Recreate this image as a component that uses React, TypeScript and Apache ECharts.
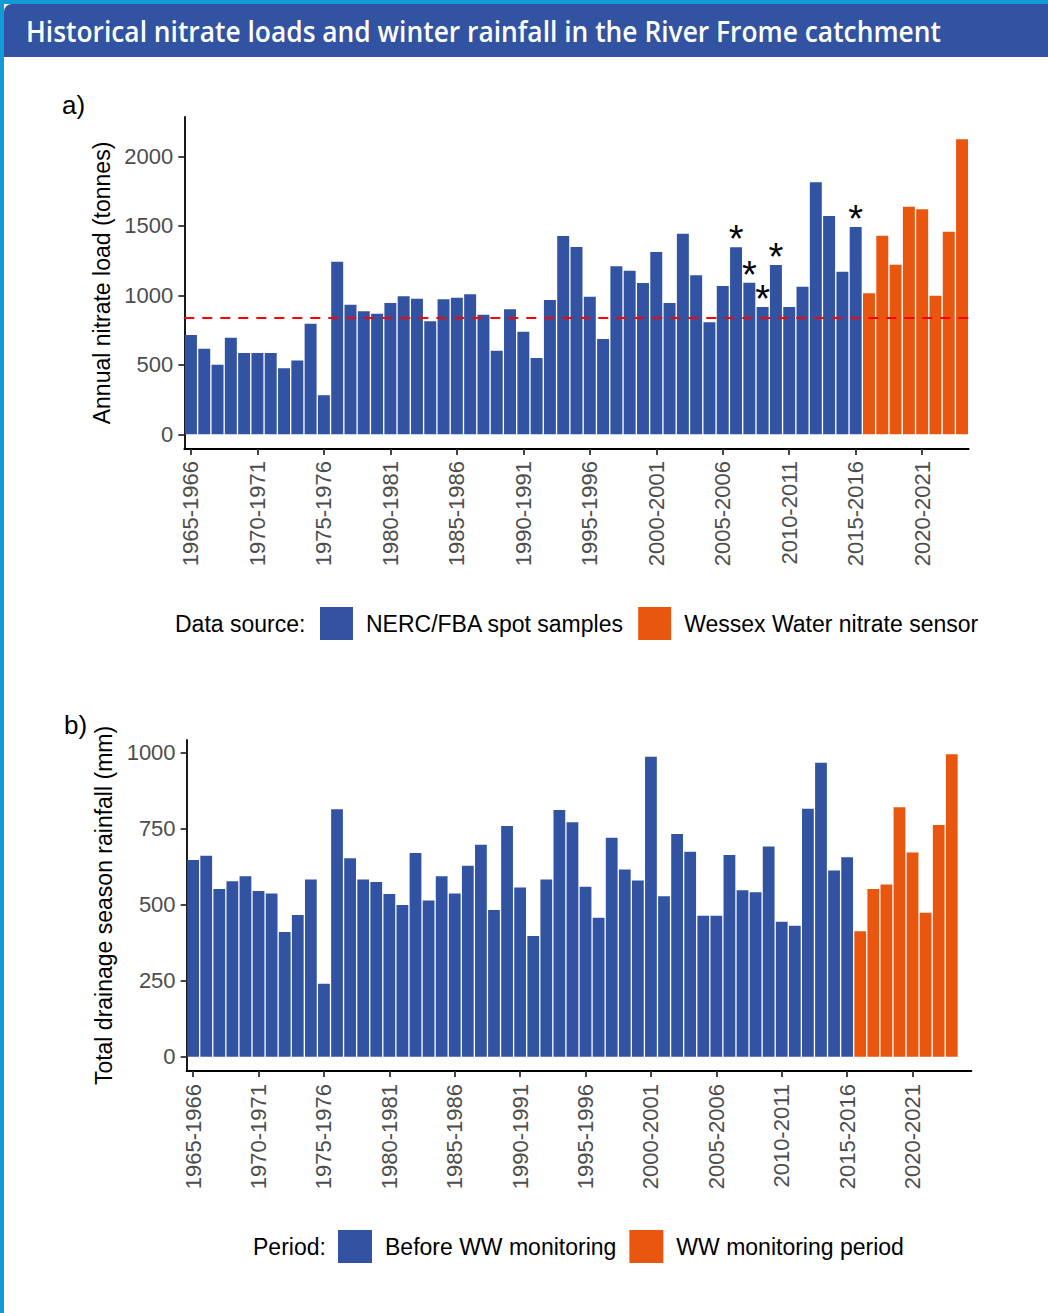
import React, { useEffect, useRef } from "react";
import * as echarts from "echarts";

// ---------- DATA ----------
const years = [
  "1965-1966", "1966-1967", "1967-1968", "1968-1969", "1969-1970",
  "1970-1971", "1971-1972", "1972-1973", "1973-1974", "1974-1975",
  "1975-1976", "1976-1977", "1977-1978", "1978-1979", "1979-1980",
  "1980-1981", "1981-1982", "1982-1983", "1983-1984", "1984-1985",
  "1985-1986", "1986-1987", "1987-1988", "1988-1989", "1989-1990",
  "1990-1991", "1991-1992", "1992-1993", "1993-1994", "1994-1995",
  "1995-1996", "1996-1997", "1997-1998", "1998-1999", "1999-2000",
  "2000-2001", "2001-2002", "2002-2003", "2003-2004", "2004-2005",
  "2005-2006", "2006-2007", "2007-2008", "2008-2009", "2009-2010",
  "2010-2011", "2011-2012", "2012-2013", "2013-2014", "2014-2015",
  "2015-2016", "2016-2017", "2017-2018", "2018-2019", "2019-2020",
  "2020-2021", "2021-2022", "2022-2023", "2023-2024",
];
// panel b has one extra (empty) slot at the end of its axis
const yearsB = [...years, "2024-2025"];

// Panel a: annual nitrate load (tonnes)
const nitrateSpot = [
  715, 615, 500, 695, 585, 585, 585, 475, 530, 796,
  281, 1242, 932, 885, 868, 945, 993, 976, 813, 971,
  983, 1007, 860, 601, 899, 738, 549, 966, 1427, 1348,
  990, 686, 1209, 1177, 1088, 1311, 945, 1443, 1144, 806,
  1067, 1345, 1091, 916, 1218, 916, 1062, 1813, 1570, 1170,
  1491,
];
const nitrateSensor = [1014, 1429, 1220, 1637, 1619, 997, 1458, 2122];
const starredYears = ["2006-2007", "2007-2008", "2008-2009", "2009-2010", "2015-2016"];
const nitrateReference = 835;
const nitrateTicks = [0, 500, 1000, 1500, 2000];

// Panel b: total drainage season rainfall (mm)
const rainBefore = [
  647, 661, 552, 577, 594, 545, 537, 410, 466, 583,
  240, 814, 653, 583, 575, 535, 499, 670, 514, 594,
  537, 628, 697, 483, 759, 557, 397, 583, 812, 771,
  559, 457, 720, 616, 580, 987, 528, 733, 674, 464,
  464, 664, 548, 541, 692, 444, 431, 816, 967, 613,
  656,
];
const rainWW = [413, 552, 567, 821, 672, 474, 762, 995];
const rainTicks = [0, 250, 500, 750, 1000];

const seriesNames = {
  spot: "NERC/FBA spot samples",
  sensor: "Wessex Water nitrate sensor",
  before: "Before WW monitoring",
  ww: "WW monitoring period",
};

const TITLE = "Historical nitrate loads and winter rainfall in the River Frome catchment";

// ---------- STYLE ----------
const BLUE = "#3153a2";
const ORANGE = "#e9560f";
const CYAN = "#129bd6";
const FONT = "'Liberation Sans', Arial, sans-serif";
const TICK_GREY = "#4d4d4d";

function measure(text: string, font: string) {
  const c = document.createElement("canvas").getContext("2d");
  if (!c) return 0;
  c.font = font;
  return c.measureText(text).width;
}

export default function App() {
  const ref = useRef<HTMLDivElement>(null);

  useEffect(() => {
    document.body.style.margin = "0";
    if (!ref.current) return;
    const chart = echarts.init(ref.current, undefined, { renderer: "svg" });

    const titleFont = "600 28px 'Open Sans'";
    const tw = measure(TITLE, titleFont);
    const titleScale = tw > 0 ? 915 / tw : 1;

    const nB = nitrateSpot.length;
    const spotData = years.map((y, i) => {
      if (i >= nB) return null;
      const v = nitrateSpot[i];
      if (starredYears.includes(y)) {
        return {
          value: v,
          label: {
            show: true,
            formatter: "*",
            position: "top",
            distance: 8,
            fontSize: 38,
            fontFamily: FONT,
            color: "#000",
            verticalAlign: "middle",
          },
        };
      }
      return v;
    });
    const sensorData = years.map((_, i) => (i >= nB ? nitrateSensor[i - nB] : null));

    const rB = rainBefore.length;
    const beforeData = yearsB.map((_, i) => (i < rB ? rainBefore[i] : null));
    const wwData = yearsB.map((_, i) =>
      i >= rB && i - rB < rainWW.length ? rainWW[i - rB] : null
    );

    const xAxisCommon = (data: string[], margin: number) => ({
      type: "category",
      data,
      boundaryGap: true,
      axisLine: { show: true, onZero: false, lineStyle: { color: "#000", width: 1.8 } },
      axisTick: {
        show: true,
        alignWithLabel: true,
        interval: 4,
        length: 6,
        lineStyle: { color: "#333", width: 1.8 },
      },
      axisLabel: {
        interval: 4,
        rotate: 90,
        margin,
        fontSize: 22,
        fontFamily: FONT,
        color: TICK_GREY,
      },
      splitLine: { show: false },
    });

    const yAxisCommon = (
      min: number,
      max: number,
      ticks: number[],
      name: string,
      nameGap: number
    ) => ({
      type: "value",
      min,
      max,
      name,
      nameLocation: "middle",
      nameGap,
      nameTextStyle: { fontSize: 23, fontFamily: FONT, color: "#000" },
      axisLine: { show: true, lineStyle: { color: "#000", width: 1.8 } },
      axisTick: {
        show: true,
        length: 6,
        customValues: ticks,
        lineStyle: { color: "#333", width: 1.8 },
      },
      axisLabel: {
        customValues: ticks,
        formatter: (v: number) => String(v),
        margin: 11,
        fontSize: 22,
        fontFamily: FONT,
        color: TICK_GREY,
      },
      splitLine: { show: false },
    });

    const option: any = {
      animation: false,
      backgroundColor: "#fff",
      textStyle: { fontFamily: FONT },
      grid: [
        { left: 184.3, top: 117, width: 784.4, height: 332, containLabel: false },
        { left: 186.6, top: 740, width: 784.8, height: 331, containLabel: false },
      ],
      xAxis: [
        { ...xAxisCommon(years, 12), gridIndex: 0 },
        { ...xAxisCommon(yearsB, 13), gridIndex: 1 },
      ],
      yAxis: [
        {
          ...yAxisCommon(-106, 2283, nitrateTicks, "Annual nitrate load (tonnes)", 57),
          gridIndex: 0,
        },
        {
          ...yAxisCommon(-47, 1042, rainTicks, "Total drainage season rainfall (mm)", 58),
          gridIndex: 1,
        },
      ],
      legend: [
        {
          data: [seriesNames.spot, seriesNames.sensor],
          left: 320,
          top: 607,
          padding: 0,
          itemWidth: 33,
          itemHeight: 33,
          itemGap: 14,
          icon: "rect",
          selectedMode: false,
          textStyle: { fontSize: 23, fontFamily: FONT, color: "#000", padding: [0, 0, 0, 8] },
        },
        {
          data: [seriesNames.before, seriesNames.ww],
          left: 338,
          top: 1230,
          padding: 0,
          itemWidth: 34,
          itemHeight: 33,
          itemGap: 13,
          icon: "rect",
          selectedMode: false,
          textStyle: { fontSize: 23, fontFamily: FONT, color: "#000", padding: [0, 0, 0, 8] },
        },
      ],
      series: [
        {
          name: seriesNames.spot,
          type: "bar",
          xAxisIndex: 0,
          yAxisIndex: 0,
          data: spotData,
          barGap: "-100%",
          barCategoryGap: "10%",
          itemStyle: { color: BLUE },
          markLine: {
            silent: true,
            symbol: "none",
            label: { show: false },
            lineStyle: { color: "#ff0000", type: [10, 8], width: 2 },
            data: [{ yAxis: nitrateReference }],
          },
        },
        {
          name: seriesNames.sensor,
          type: "bar",
          xAxisIndex: 0,
          yAxisIndex: 0,
          data: sensorData,
          barGap: "-100%",
          barCategoryGap: "10%",
          itemStyle: { color: ORANGE },
        },
        {
          name: seriesNames.before,
          type: "bar",
          xAxisIndex: 1,
          yAxisIndex: 1,
          data: beforeData,
          barGap: "-100%",
          barCategoryGap: "10%",
          itemStyle: { color: BLUE },
        },
        {
          name: seriesNames.ww,
          type: "bar",
          xAxisIndex: 1,
          yAxisIndex: 1,
          data: wwData,
          barGap: "-100%",
          barCategoryGap: "10%",
          itemStyle: { color: ORANGE },
        },
      ],
      graphic: [
        { type: "rect", z: -10, shape: { x: 0, y: 0, width: 1048, height: 1313 }, style: { fill: "#fff" } },
        { type: "rect", z: -9, shape: { x: 0, y: 0, width: 4, height: 1313 }, style: { fill: CYAN } },
        { type: "rect", z: -9, shape: { x: 0, y: 0, width: 1048, height: 4 }, style: { fill: CYAN } },
        {
          type: "rect",
          z: -8,
          shape: { x: 4, y: 4, width: 1044, height: 53, r: [8, 0, 0, 0] },
          style: { fill: BLUE },
        },
        {
          type: "text",
          x: 26,
          y: 31,
          scaleX: titleScale,
          style: {
            text: TITLE,
            fontSize: 28,
            fontWeight: 600,
            fontFamily: "'Open Sans', sans-serif",
            fill: "#fff",
            verticalAlign: "middle",
          },
        },
        {
          type: "text",
          x: 62,
          y: 105,
          style: { text: "a)", fontSize: 26, fontFamily: FONT, fill: "#000", verticalAlign: "middle" },
        },
        {
          type: "text",
          x: 64,
          y: 725,
          style: { text: "b)", fontSize: 26, fontFamily: FONT, fill: "#000", verticalAlign: "middle" },
        },
        {
          type: "text",
          x: 175,
          y: 624,
          style: { text: "Data source:", fontSize: 23, fontFamily: FONT, fill: "#000", verticalAlign: "middle" },
        },
        {
          type: "text",
          x: 253,
          y: 1247,
          style: { text: "Period:", fontSize: 23, fontFamily: FONT, fill: "#000", verticalAlign: "middle" },
        },
      ],
    };

    chart.setOption(option);
    return () => chart.dispose();
  }, []);

  return <div ref={ref} style={{ width: 1048, height: 1313 }} />;
}
